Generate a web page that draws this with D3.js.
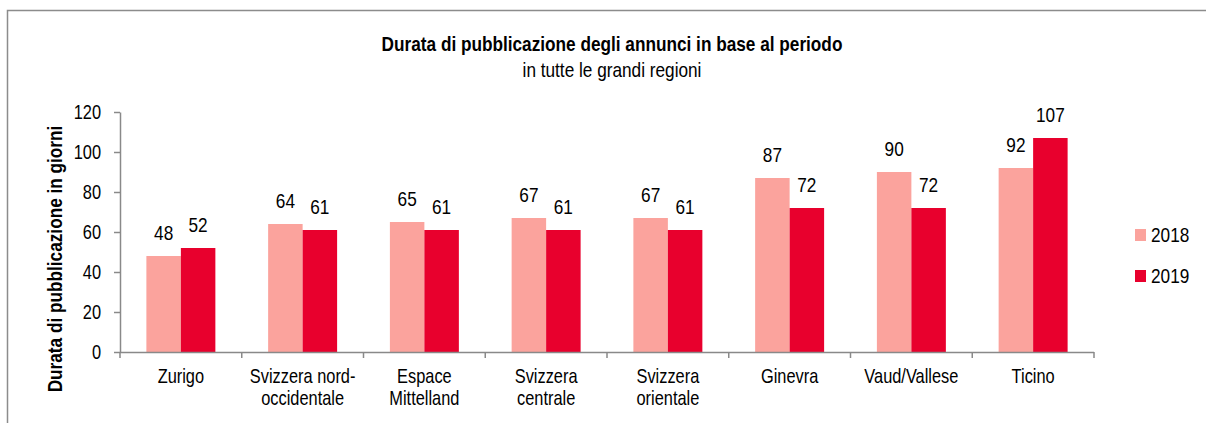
<!DOCTYPE html>
<html><head><meta charset="utf-8">
<script src="https://cdn.jsdelivr.net/npm/d3@7"></script>
<style>
html,body{margin:0;padding:0;background:#fff;}
text{font-family:"Liberation Sans Narrow","Liberation Sans",Arial,sans-serif;fill:#000;}
</style></head>
<body><svg id="c" width="1206" height="423"></svg>
<script>
const categories = [["Zurigo"],["Svizzera nord-","occidentale"],["Espace","Mittelland"],["Svizzera","centrale"],["Svizzera","orientale"],["Ginevra"],["Vaud/Vallese"],["Ticino"]];
const seriesNames = ["2018","2019"];
const values2018 = [48,64,65,67,67,87,90,92];
const values2019 = [52,61,61,61,61,72,72,107];
const yTicks = [0,20,40,60,80,100,120];
const colors = ["#FBA39D","#E8002D"];

const SX = 0.82;
const svg = d3.select("#c");
// condensed text helper
function label(x, y, str, size, anchor, weight, rot){
  const g = svg.append("g").attr("transform",`translate(${x},${y})${rot?` rotate(${rot})`:""} scale(${SX},1)`);
  const t = g.append("text").attr("font-size",size).attr("text-anchor",anchor||"middle");
  if (weight) t.attr("font-weight",weight);
  if (Array.isArray(str)) str.forEach((l,j)=>t.append("tspan").attr("x",0).attr("dy",j?22:0).text(l));
  else t.text(str);
  return t;
}

svg.append("rect").attr("x",7.5).attr("y",10.5).attr("width",1230).attr("height",450)
  .attr("fill","none").attr("stroke","#8c8c8c").attr("stroke-width",1.5);

const x0 = d3.scaleBand().domain(d3.range(categories.length)).range([120,1094]).padding(0);
const x1 = d3.scaleBand().domain(seriesNames).range([0,x0.bandwidth()]).paddingInner(0).paddingOuter(0.765);
const y = d3.scaleLinear().domain([0,120]).range([352,112]);

const series = [values2018, values2019];
series.forEach((vals,si)=>{
  svg.append("g").selectAll("rect").data(vals).enter().append("rect")
    .attr("x",(d,i)=>x0(i)+x1(seriesNames[si]))
    .attr("y",d=>y(d)).attr("width",x1.bandwidth()).attr("height",d=>y(0)-y(d))
    .attr("fill",colors[si]);
  vals.forEach((d,i)=>label(x0(i)+x1(seriesNames[si])+x1.bandwidth()/2, y(d)-16, d, 21));
});

// y axis
const yAx = svg.append("g").attr("transform","translate(120,0)")
  .call(d3.axisLeft(y).tickValues(yTicks).tickSize(6).tickSizeOuter(0).tickFormat(""));
yAx.select(".domain").attr("stroke","#898989").attr("stroke-width",1.5);
yAx.selectAll(".tick line").attr("stroke","#898989").attr("stroke-width",1.5);
yTicks.forEach(v=>label(101, y(v)+7, v, 20, "end"));

// x axis
const bounds = d3.range(categories.length+1).map(i=>i<categories.length? x0(i): x0.range()[1]);
svg.append("line").attr("x1",120).attr("x2",1094).attr("y1",352.5).attr("y2",352.5).attr("stroke","#898989").attr("stroke-width",1.5);
svg.selectAll("line.xt").data(bounds).enter().append("line").attr("class","xt")
  .attr("x1",d=>d).attr("x2",d=>d).attr("y1",352).attr("y2",358).attr("stroke","#898989").attr("stroke-width",1.5);
categories.forEach((lines,i)=>label(x0(i)+x0.bandwidth()/2, 383, lines, 20));

// titles
label(612, 51, "Durata di pubblicazione degli annunci in base al periodo", 21, "middle", "bold");
label(612, 77, "in tutte le grandi regioni", 21);
label(62, 259, "Durata di pubblicazione in giorni", 21, "middle", "bold", -90);

// legend
seriesNames.forEach((s,i)=>{
  const yy = 229 + i*41;
  svg.append("rect").attr("x",1135).attr("y",yy).attr("width",11).attr("height",12).attr("fill",colors[i]);
  label(1151, yy+13, s, 21, "start");
});
</script></body></html>
